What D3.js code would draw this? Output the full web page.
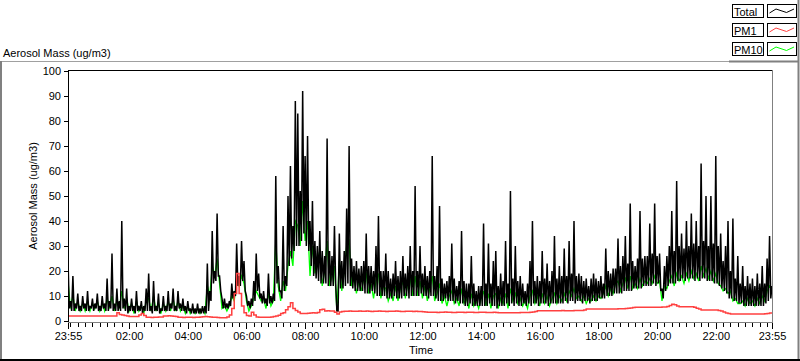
<!DOCTYPE html>
<html><head><meta charset="utf-8">
<script src="https://cdn.jsdelivr.net/npm/d3@7"></script>
<style>
html,body{margin:0;padding:0;background:#fff;}
svg{display:block;}
</style></head><body>
<svg id="chart" width="800" height="361"></svg>
<script>
// ---- data (minutes after 23:55) ----
// Total: spike tops every 5 min, and the band bottoms read between them (2.5 min apart)
const totalStepMinutes = 2.5;
const totalPeaks = [
25,8,18,7,11,6,10,7,12,6,
9,7,11,6,10,7,17,8,27,7,
13,8,40,9,13,6,9,6,12,6,
8,6,13,19,6,16,6,11,5,10,
6,12,7,13,6,12,7,9,6,8,
5,7,5,7,5,6,6,23,12,36,
20,43,18,9,9,7,8,15,12,31,
18,32,24,10,8,9,16,27,19,11,
12,9,19,10,11,58,22,12,38,18,
50,62,38,88,83,52,92,66,74,40,
48,32,30,36,28,26,73,28,26,38,
4,35,24,28,45,70,25,22,24,21,
22,24,35,22,22,20,30,42,20,20,
27,20,17,19,24,18,20,26,19,22,
30,20,54,20,30,19,22,18,20,66,
18,22,46,17,15,16,18,31,17,14,
16,36,16,15,15,26,15,12,14,14,
39,15,31,15,24,28,14,19,16,32,
15,52,17,30,16,18,15,12,15,24,
40,16,18,16,28,17,23,16,20,34,
17,22,18,29,18,32,19,40,18,19,
18,16,17,14,17,19,17,16,18,15,
29,20,19,21,21,33,22,26,34,23,
47,24,22,25,44,25,26,26,39,27,
47,26,27,13,22,26,30,44,28,56,
30,35,29,40,30,43,31,40,30,63,
32,50,30,50,31,66,30,35,24,30,
40,20,41,17,26,15,22,14,18,15,
17,14,19,15,22,15,25,34,14
];
const totalTroughs = [
5,4,4,5,4,4,5,4,4,5,
4,5,4,4,5,4,4,5,4,4,
4,4,5,4,3,4,4,3,4,4,
3,4,4,4,3,4,4,3,4,4,
4,4,5,4,4,5,4,4,3,4,
3,3,3,3,3,3,3,4,8,15,
16,18,12,5,5,5,6,9,10,14,
14,16,12,6,5,6,8,12,9,7,
7,6,7,7,8,15,12,9,12,14,
22,25,28,30,30,32,35,30,28,22,
18,17,16,15,15,15,14,14,14,15,
4,13,13,14,15,14,13,12,12,12,
12,11,11,11,12,11,10,10,10,10,
9,9,9,10,9,9,9,10,10,9,
10,10,10,10,11,10,10,9,10,10,
9,8,8,8,9,8,8,8,7,8,
7,7,6,6,7,6,6,6,6,6,
6,6,7,6,6,5,6,6,6,7,
6,7,6,7,6,6,7,6,7,6,
7,7,6,7,7,7,6,7,7,7,
7,7,7,8,7,8,8,7,8,8,
7,8,8,7,8,8,8,9,9,9,
10,10,10,11,11,11,11,12,12,12,
12,13,13,13,13,14,14,14,14,15,
14,15,12,9,12,14,15,15,15,16,
16,17,16,17,17,17,16,17,16,17,
17,16,16,16,15,15,14,13,12,11,
9,9,8,8,7,7,6,6,6,6,
6,6,6,6,6,7,8,9
];
const stepMinutes = 5;
const pm10 = [
16,5,10,4,8,4,7,4,8,4,
7,5,8,4,7,4,9,5,10,4,
8,5,12,5,9,4,7,3,8,4,
6,3,8,9,4,10,4,7,3,7,
4,8,4,9,4,8,4,6,3,6,
3,5,3,5,3,5,3,14,10,22,
18,25,15,5,6,4,6,10,8,16,
14,18,15,8,4,6,9,12,10,8,
9,5,11,6,8,32,14,8,16,12,
22,28,22,40,38,30,48,32,40,18,
30,19,24,28,14,20,32,14,18,22,
4,24,12,20,30,32,14,17,11,16,
12,17,19,11,15,9,16,19,9,14,
13,8,11,8,14,8,13,16,9,15,
17,10,18,10,16,9,14,8,13,18,
8,11,15,7,10,6,10,12,7,9,
6,13,7,9,5,11,6,8,5,9,
12,6,11,5,10,11,5,9,7,11,
5,13,8,11,7,9,6,8,5,10,
12,7,10,6,11,7,10,6,9,11,
7,10,8,11,8,12,10,13,9,10,
8,10,7,9,8,10,8,10,9,11,
14,10,13,11,15,16,12,15,17,13,
18,13,15,13,17,14,16,15,17,15,
18,15,16,8,14,13,16,18,14,19,
16,18,15,19,16,20,17,19,16,22,
18,21,17,20,16,19,15,14,12,13,
11,12,8,9,7,7,8,6,9,7,
8,6,9,7,10,8,12,14,12
];
const pm1 = [
2.0,2.0,2.0,2.0,2.0,2.0,2.0,2.0,2.0,2.0,
2.0,2.0,2.0,2.0,2.0,2.0,2.0,2.0,2.0,2.0,
3.3,2.6,2.4,2.2,2.0,1.8,1.8,1.8,1.8,2.4,
3.0,2.2,1.5,1.5,1.4,1.5,1.5,1.6,1.6,2.0,
2.0,2.1,2.0,1.9,1.8,1.5,1.5,1.4,1.5,1.5,
1.5,1.4,1.5,1.5,1.6,1.7,1.8,1.7,1.6,1.5,
1.5,1.4,1.3,1.3,1.3,1.6,2.4,5.0,11,19,
11,6.0,3.3,2.2,2.0,3.5,2.4,1.6,1.5,1.5,
1.5,1.5,1.5,1.6,1.8,2.0,2.3,3.0,3.3,4.5,
5.7,7.3,5.0,4.2,3.6,3.0,3.0,3.0,3.1,3.2,
3.3,3.2,3.4,4.5,4.7,4.0,4.1,4.0,4.0,3.5,
2.8,3.6,3.8,3.9,3.9,4.0,3.9,3.9,3.9,4.0,
3.9,3.9,4.0,3.9,3.8,3.9,3.9,4.0,3.9,3.9,
3.8,3.9,3.9,3.9,4.0,3.9,3.8,3.8,3.9,3.9,
3.9,3.8,3.9,3.8,3.8,3.7,3.6,3.5,3.5,3.5,
3.5,3.4,3.5,3.5,3.6,3.5,3.5,3.4,3.4,3.5,
3.5,3.5,3.4,3.5,3.5,3.5,3.4,3.4,3.5,3.5,
3.5,3.4,3.4,3.4,3.5,3.4,3.3,3.3,3.3,3.3,
3.3,3.3,3.3,3.3,3.3,3.4,3.4,3.4,3.4,3.5,
3.6,3.8,4.1,4.1,4.1,4.1,4.1,4.1,4.1,4.1,
4.1,4.1,4.2,4.1,4.1,4.1,4.1,4.2,4.2,4.2,
4.2,4.4,4.8,4.8,4.8,4.8,4.8,4.8,4.8,4.8,
4.8,4.8,4.8,4.8,4.8,4.9,4.9,4.9,5.0,5.1,
5.2,5.4,5.5,5.5,5.5,5.5,5.5,5.5,5.5,5.5,
5.5,5.5,5.5,5.6,5.6,5.8,6.2,6.7,6.5,6.0,
5.7,5.7,5.7,5.7,5.7,5.7,5.5,5.1,4.8,4.4,
4.4,4.4,4.4,4.4,4.4,4.4,4.2,4.0,3.6,3.2,
3.0,2.8,2.8,2.8,2.8,2.8,2.8,2.8,2.8,2.8,
2.8,2.8,2.8,2.8,2.8,2.9,3.0,3.2,3.3
];
const seriesNames = ["Total", "PM1", "PM10"];
const seriesColors = ["#000000", "#ff4040", "#00ff00"];
const yTicks = [0,10,20,30,40,50,60,70,80,90,100];
const xMajorMinutes = [0,125,245,365,485,605,725,845,965,1085,1205,1325,1440];
const xMajorLabels = ["23:55","02:00","04:00","06:00","08:00","10:00","12:00","14:00","16:00","18:00","20:00","22:00","23:55"];
const titleText = "Aerosol Mass (ug/m3)";
const xTitle = "Time";

// Total series: peaks and the troughs between them, in time order
const total = [];
totalPeaks.forEach((v, i) => {
  total.push(v);
  if (i < totalTroughs.length) total.push(totalTroughs[i]);
});

// ---- drawing ----
const FONT = "'Liberation Sans', Arial, sans-serif";
const svg = d3.select("#chart").attr("font-family", FONT).attr("font-size", 11);
svg.append("rect").attr("width", 800).attr("height", 361).attr("fill", "#fff");

const x = d3.scaleLinear().domain([0, 1440]).range([68, 772]);
const y = d3.scaleLinear().domain([0, 100]).range([321, 71]);

// outer frame
const frame = svg.append("g").attr("fill", "none");
frame.append("line").attr("x1", 0).attr("x2", 729).attr("y1", 61.5).attr("y2", 61.5).attr("stroke", "#a0a0a0");
frame.append("line").attr("x1", 729).attr("x2", 798).attr("y1", 61.5).attr("y2", 61.5).attr("stroke", "#808080").attr("stroke-width", 2);
frame.append("line").attr("x1", 798.5).attr("x2", 798.5).attr("y1", 0).attr("y2", 361).attr("stroke", "#808080").attr("stroke-width", 2);
frame.append("line").attr("x1", 1).attr("x2", 1).attr("y1", 61).attr("y2", 361).attr("stroke", "#808080").attr("stroke-width", 2);
frame.append("line").attr("x1", 0).attr("x2", 800).attr("y1", 360).attr("y2", 360).attr("stroke", "#000").attr("stroke-width", 2);

// title
svg.append("text").attr("x", 3).attr("y", 57).attr("fill", "#000").text(titleText);

// clip for plot
svg.append("clipPath").attr("id", "plotclip").append("rect")
  .attr("x", 68).attr("y", 70).attr("width", 704).attr("height", 252);

const totalLine = d3.line().x((d, i) => x(i * totalStepMinutes)).y(d => y(d));
const lineGen = d3.line().x((d, i) => x(i * stepMinutes)).y(d => y(d));
const stepGen = d3.line().x((d, i) => x(i * stepMinutes)).y(d => y(d)).curve(d3.curveStepAfter);

const plot = svg.append("g").attr("clip-path", "url(#plotclip)");
plot.append("path").datum(pm10).attr("d", lineGen).attr("fill", "none")
  .attr("stroke", seriesColors[2]).attr("stroke-width", 1.3).attr("stroke-linejoin", "miter");
plot.append("path").datum(total).attr("d", totalLine).attr("fill", "none")
  .attr("stroke", seriesColors[0]).attr("stroke-width", 1.5).attr("stroke-linejoin", "miter")
  .attr("stroke-miterlimit", 2);
plot.append("path").datum(pm1).attr("d", stepGen).attr("fill", "none")
  .attr("stroke", seriesColors[1]).attr("stroke-width", 1.5);

// plot borders
svg.append("line").attr("x1", 68).attr("x2", 772.5).attr("y1", 70.5).attr("y2", 70.5).attr("stroke", "#000");
svg.append("line").attr("x1", 68.5).attr("x2", 68.5).attr("y1", 70).attr("y2", 322.5).attr("stroke", "#000");
svg.append("line").attr("x1", 772.5).attr("x2", 772.5).attr("y1", 70).attr("y2", 323).attr("stroke", "#808080");
svg.append("line").attr("x1", 68).attr("x2", 773).attr("y1", 322.5).attr("y2", 322.5).attr("stroke", "#808080");

// y axis
const yAxis = svg.append("g").attr("transform", "translate(68,0)")
  .call(d3.axisLeft(y).tickValues(yTicks).tickSize(4).tickPadding(3).tickFormat(d3.format("d")));
yAxis.select(".domain").remove();
yAxis.attr("font-family", FONT).attr("font-size", 11);
yAxis.selectAll("line").attr("stroke", "#000").attr("shape-rendering", "crispEdges");
yAxis.selectAll("text").attr("fill", "#000");

// x axis: minor ticks
const minorTicks = d3.range(5, 1440, 15).filter(m => xMajorMinutes.indexOf(m) < 0);
const xMinor = svg.append("g").attr("transform", "translate(0,323)")
  .call(d3.axisBottom(x).tickValues(minorTicks).tickSize(4).tickFormat(""));
xMinor.select(".domain").remove();
xMinor.selectAll("line").attr("stroke", "#000").attr("shape-rendering", "crispEdges");

const xAxis = svg.append("g").attr("transform", "translate(0,323)")
  .call(d3.axisBottom(x).tickValues(xMajorMinutes).tickSize(6).tickPadding(3)
    .tickFormat((d, i) => xMajorLabels[i]));
xAxis.select(".domain").remove();
xAxis.attr("font-family", FONT).attr("font-size", 11);
xAxis.selectAll("line").attr("stroke", "#000").attr("shape-rendering", "crispEdges");
xAxis.selectAll("text").attr("fill", "#000");

// axis titles
svg.append("text").attr("x", 421).attr("y", 354).attr("text-anchor", "middle").attr("fill", "#000").text(xTitle);
svg.append("text").attr("transform", "translate(37,196) rotate(-90)").attr("text-anchor", "middle")
  .attr("fill", "#000").text(titleText);

// legend
const sw = [[2, 8.5], [8.5, 4.5], [19, 8], [26.5, 4.5]];
const legend = svg.append("g");
seriesNames.forEach((name, k) => {
  const top = 4.5 + k * 19;
  legend.append("rect").attr("x", 732.5).attr("y", top).attr("width", 31).attr("height", 13)
    .attr("fill", "#fff").attr("stroke", "#000");
  legend.append("text").attr("x", 734).attr("y", top + 11).attr("fill", "#000").text(name);
  legend.append("rect").attr("x", 767.5).attr("y", top).attr("width", 29).attr("height", 13)
    .attr("fill", "#fff").attr("stroke", "#000");
  legend.append("path").attr("d", d3.line()(sw.map(p => [767.5 + p[0], top + p[1]])))
    .attr("fill", "none").attr("stroke", seriesColors[k]).attr("stroke-width", 1);
});
</script>
</body></html>
